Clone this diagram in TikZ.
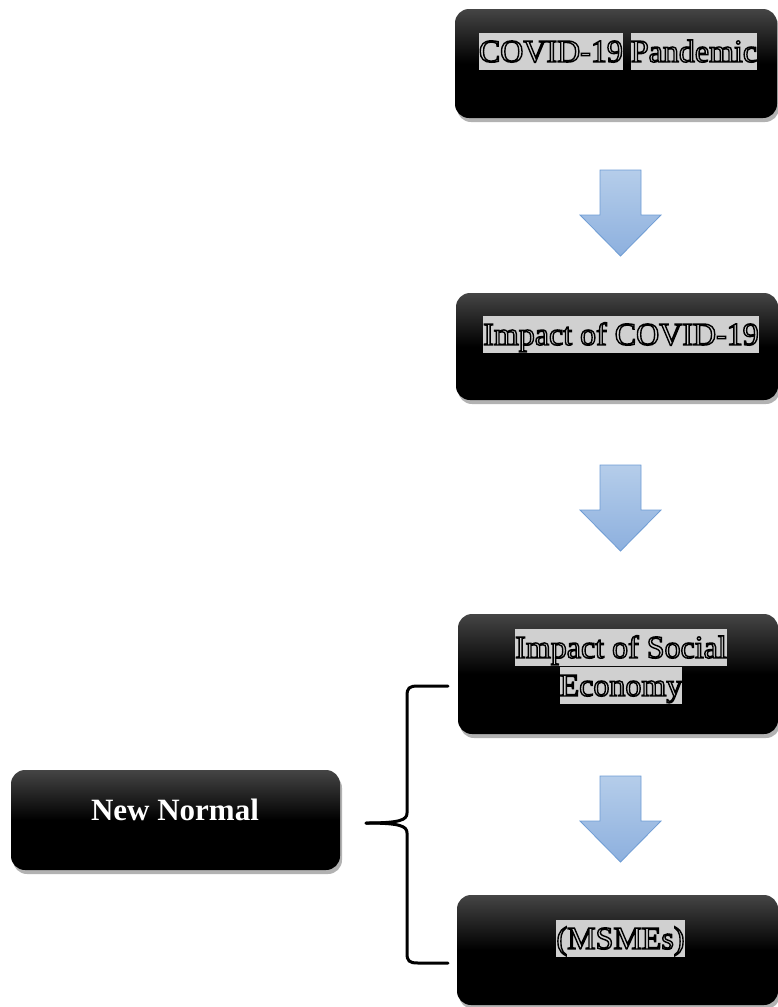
\documentclass[tikz,border=0pt]{standalone}
\usepackage{fontspec}
\setmainfont{Liberation Serif}
\usetikzlibrary{shadows}
\definecolor{hlgray}{HTML}{D0D0D0}
\definecolor{arrtop}{HTML}{B5CDEA}
\definecolor{arrbot}{HTML}{8DB0DE}
\definecolor{arredge}{HTML}{6E9CD4}
\pgfdeclareverticalshading{boxshade}{100bp}{color(0bp)=(black); color(50bp)=(black); color(75bp)=(black!73); color(100bp)=(black!73)}
\newcommand\outl[1]{\special{pdf:literal direct 1 Tr 1.4 w 0 0 0 RG}#1\special{pdf:literal direct 0 Tr}}
\newcommand\hlbox[1]{{\setlength\fboxsep{0pt}\colorbox{hlgray}{\rule[-8pt]{0pt}{37pt}\outl{#1}}}}
\tikzset{
  darkbox/.style={draw=none, rounded corners=14pt, shading=boxshade,
    drop shadow={shadow xshift=2pt, shadow yshift=-4pt, opacity=0.3, fill=black}},
  boxtext/.style={inner sep=0pt, font=\fontsize{32}{38}\selectfont, align=center},
  blockarrow/.style={draw=arredge, line width=0.8pt, top color=arrtop, bottom color=arrbot, line join=miter},
  bracestyle/.style={line width=3pt, black, line cap=round}
}
\begin{document}
\begin{tikzpicture}[x=1pt,y=-1pt]
\useasboundingbox (0,0) rectangle (778,1007);
% boxes
\node[darkbox, minimum width=322pt, minimum height=109pt] (b1) at (616,63.5) {};
\node[darkbox, minimum width=322pt, minimum height=107pt] (b2) at (617,346.5) {};
\node[darkbox, minimum width=320pt, minimum height=120pt] (b3) at (618,674) {};
\node[darkbox, minimum width=321pt, minimum height=110pt] (b4) at (617.5,950) {};
\node[darkbox, minimum width=329pt, minimum height=100pt] (nn) at (175.5,820) {};
% texts
\node[boxtext, anchor=base] (t1) at (618,62) {\hlbox{COVID-19} \hlbox{Pandemic}};
\node[boxtext, anchor=base] (t2) at (621,345) {\hlbox{Impact of COVID-19}};
\node[boxtext, anchor=center] (t3) at (621,666.5) {\hlbox{Impact of Social}\\\hlbox{Economy}};
\node[boxtext, anchor=base] (t4) at (620.5,949) {\hlbox{(MSMEs)}};
\node[inner sep=0pt, anchor=base, text=white, font=\fontsize{31}{36}\selectfont\bfseries] (t5) at (175,820) {New Normal};
% block arrows
\foreach \n/\y in {a1/170, a2/465, a3/776}{
  \coordinate (\n) at (620.5,\y);
  \path[blockarrow] ([xshift=-20.5pt]\n) -- ([xshift=20.5pt]\n) -- ([xshift=20.5pt,yshift=-45pt]\n)
     -- ([xshift=40.5pt,yshift=-45pt]\n) -- ([yshift=-86pt]\n) -- ([xshift=-40.5pt,yshift=-45pt]\n)
     -- ([xshift=-20.5pt,yshift=-45pt]\n) -- cycle;
}
% brace
\coordinate (bt) at (448,686);
\coordinate (bb) at (448,963);
\coordinate (btip) at (366,823);
\draw[bracestyle] (bt) -- (418,686) .. controls (409,686) and (407,688) .. (407,696) -- (407,813)
   .. controls (407,820) and (400,823) .. (btip);
\draw[bracestyle] (btip) .. controls (400,823) and (407,826) .. (407,833) -- (407,953)
   .. controls (407,961) and (409,963) .. (418,963) -- (bb);
\end{tikzpicture}
\end{document}
